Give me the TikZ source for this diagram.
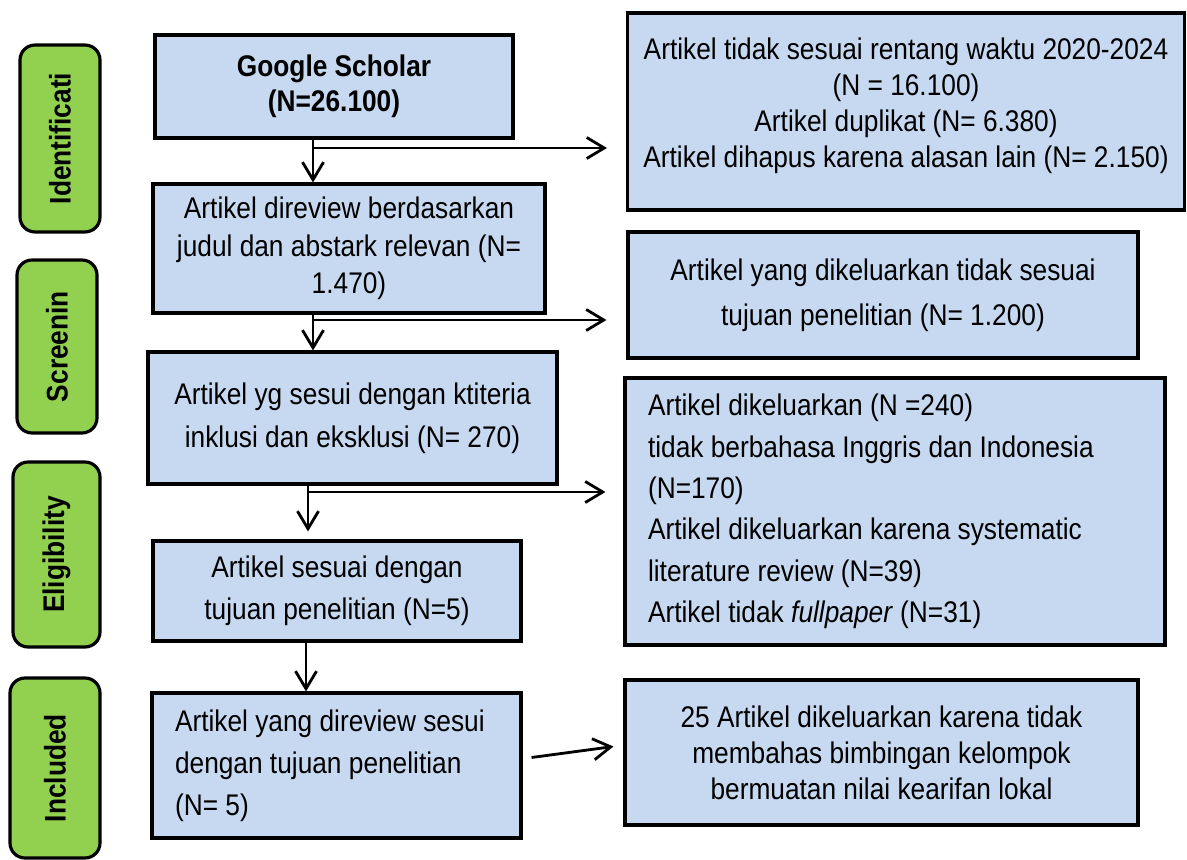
\documentclass[tikz,border=0pt]{standalone}
\usepackage{fontspec}
\setmainfont[FakeStretch=0.88]{Liberation Sans}
\usetikzlibrary{arrows.meta}
\definecolor{boxblue}{HTML}{C6D9F1}
\definecolor{stagegreen}{HTML}{92D050}

\begin{document}
\begin{tikzpicture}[x=0.02cm, y=-0.02cm,
        box/.style={draw, line width=1.8pt, fill=boxblue, inner sep=0pt, align=center, font=\fontsize{17}{20.5}\selectfont},
        sp/.style={font=\fontsize{17}{#1}\selectfont},
        stage/.style={draw, line width=1.8pt, fill=stagegreen, rounded corners=0.3cm, rotate=90, inner sep=0pt, font=\fontsize{17}{20}\selectfont\bfseries},
        arr/.style={line width=1.6pt, -{Straight Barb[length=10pt,width=12pt]}}]
        \path[use as bounding box, fill=white] (0,0) rectangle (1187,859);

        % stages
        \node[stage, minimum width=3.74cm, minimum height=1.6cm] (sid) at (60,138.5) {Identificati};
        \node[stage, minimum width=3.46cm, minimum height=1.6cm] (ssc) at (57,346.5) {Screenin};
        \node[stage, minimum width=3.7cm, minimum height=1.74cm] (sel) at (56.5,554.5) {Eligibility};
        \node[stage, minimum width=3.6cm, minimum height=1.8cm] (sin) at (55,768) {Included};

        % main flow
        \node[box, minimum width=7.16cm, minimum height=2.06cm, font=\fontsize{17}{20}\selectfont\bfseries] (gs) at (334,86.5) {Google Scholar\\(N=26.100)};
        \node[box, minimum width=7.84cm, minimum height=2.58cm, sp=21.3] (rev) at (349,248.5) {Artikel direview berdasarkan\\judul dan abstark relevan (N=\\1.470)};
        \node[box, minimum width=8.18cm, minimum height=2.64cm, sp=24.5] (incl) at (352.5,418) {Artikel yg sesui dengan ktiteria\\inklusi dan eksklusi (N= 270)};
        \node[box, minimum width=7.36cm, minimum height=2.0cm, sp=24] (elig) at (337,591) {Artikel sesuai dengan\\tujuan penelitian (N=5)};
        \node[box, minimum width=7.38cm, minimum height=2.9cm, sp=24, align=flush left, inner xsep=0.46cm, text width=6.46cm] (fin) at (336.5,765.5) {Artikel yang direview sesui\\dengan tujuan penelitian\\(N= 5)};

        % excluded
        \node[box, minimum width=11.14cm, minimum height=3.94cm] (ex1) at (906,111.5) {Artikel tidak sesuai rentang waktu 2020-2024\\(N = 16.100)\\Artikel duplikat (N= 6.380)\\Artikel dihapus karena alasan lain (N= 2.150)\\[-10pt]\mbox{}};
        \node[box, minimum width=10.2cm, minimum height=2.52cm, sp=25.6] (ex2) at (883,295) {Artikel yang dikeluarkan tidak sesuai\\tujuan penelitian (N= 1.200)};
        \node[box, minimum width=10.8cm, minimum height=5.34cm, sp=23.6, align=flush left, inner xsep=0.46cm, text width=9.88cm] (ex3) at (895,511.5) {Artikel dikeluarkan (N =240)\\tidak berbahasa Inggris dan Indonesia\\(N=170)\\Artikel dikeluarkan karena systematic\\literature review (N=39)\\Artikel tidak \textit{fullpaper} (N=31)};
        \node[box, minimum width=10.26cm, minimum height=2.9cm] (ex4) at (881.5,752.5) {25 Artikel dikeluarkan karena tidak\\membahas bimbingan kelompok\\bermuatan nilai kearifan lokal};

        % arrows
        \coordinate (b1) at (313,148);
        \coordinate (b2) at (313,320);
        \coordinate (b3) at (308,492);
        \coordinate (b4) at (306,660);
        \draw[arr] (gs.south -| b1) -- (rev.north -| b1);
        \draw[arr, shorten >=0.38cm] (gs.south -| b1) |- (ex1.west |- b1);
        \draw[arr] (rev.south -| b2) -- (incl.north -| b2);
        \draw[arr, shorten >=0.4cm] (rev.south -| b2) |- (ex2.west |- b2);
        \draw[arr, shorten >=0.16cm] (incl.south -| b3) -- (elig.north -| b3);
        \draw[arr, shorten >=0.36cm] (incl.south -| b3) |- (ex3.west |- b3);
        \draw[arr] (elig.south -| b4) -- (fin.north -| b4);
        \draw[arr] ([shift={(9,-8)}]fin.east) -- ([shift={(-10,-6)}]ex4.west);
\end{tikzpicture}
\end{document}
